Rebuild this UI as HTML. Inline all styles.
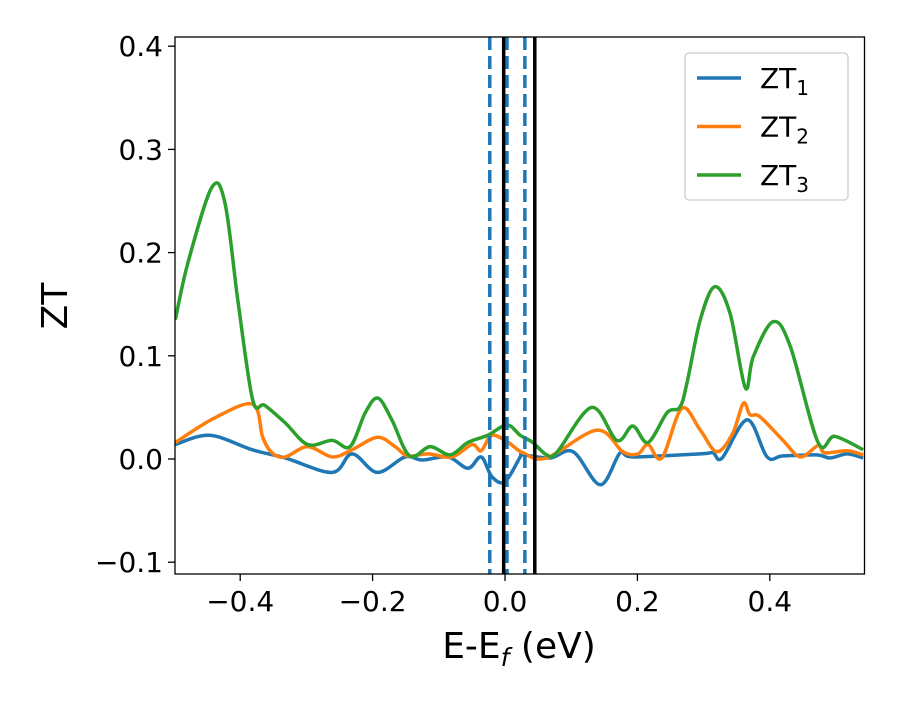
<!DOCTYPE html>
<html><head><meta charset="utf-8"><style>
body{margin:0;background:#fff}
svg{font-family:"DejaVu Sans","Liberation Sans",sans-serif}
</style></head><body>
<svg id="chart" width="900" height="700">
<defs><clipPath id="clip"><rect x="175" y="37" width="690" height="537"/></clipPath></defs>
<rect x="0" y="0" width="900" height="700" fill="#fff"/>
<g id="ticks"></g>
<g id="plot" clip-path="url(#clip)"></g>
<rect x="175" y="37" width="689.5" height="537" fill="none" stroke="#000" stroke-width="1.3"/>
<text x="519" y="658" font-size="36" text-anchor="middle">E-E<tspan font-style="italic" font-size="25" dy="8">f</tspan><tspan dy="-8"> (eV)</tspan></text>
<text transform="translate(67,306) rotate(-90)" font-size="36" text-anchor="middle">ZT</text>
<g id="legend"></g>
</svg>
<script>
const xTicks=[-0.4,-0.2,0.0,0.2,0.4];
const xTickLabels=["\u22120.4","\u22120.2","0.0","0.2","0.4"];
const yTicks=[-0.1,0.0,0.1,0.2,0.3,0.4];
const yTickLabels=["\u22120.1","0.0","0.1","0.2","0.3","0.4"];
const seriesNames=["ZT1","ZT2","ZT3"];
const seriesColors=["#1f77b4","#ff7f0e","#2ca02c"];
const zt1X=[-0.498,-0.446,-0.382,-0.332,-0.261,-0.231,-0.193,-0.151,-0.125,-0.086,-0.056,-0.036,-0.020,0.000,0.023,0.027,0.068,0.103,0.144,0.174,0.193,0.295,0.314,0.328,0.366,0.396,0.420,0.471,0.491,0.517,0.541];
const zt1Y=[0.014,0.023,0.009,0.001,-0.013,0.005,-0.013,0.002,-0.001,0.002,-0.009,0.002,-0.017,-0.022,0.002,0.004,0.001,0.007,-0.025,0.006,0.002,0.005,0.006,0.001,0.038,0.002,0.003,0.004,0.001,0.005,0.001];
const zt2X=[-0.498,-0.438,-0.381,-0.366,-0.352,-0.332,-0.298,-0.261,-0.231,-0.193,-0.166,-0.147,-0.116,-0.080,-0.050,-0.036,-0.020,0.005,0.027,0.063,0.139,0.178,0.201,0.216,0.237,0.267,0.295,0.320,0.344,0.360,0.370,0.385,0.420,0.446,0.473,0.483,0.517,0.541];
const zt2Y=[0.016,0.040,0.053,0.021,0.006,0.002,0.012,0.002,0.009,0.021,0.012,0.003,0.005,0.002,0.014,0.008,0.023,0.016,0.006,0.001,0.028,0.007,0.005,0.014,0.001,0.049,0.028,0.007,0.025,0.054,0.043,0.041,0.018,0.002,0.013,0.006,0.008,0.004];
const zt3X=[-0.498,-0.479,-0.443,-0.423,-0.403,-0.381,-0.363,-0.332,-0.298,-0.261,-0.234,-0.211,-0.192,-0.171,-0.144,-0.113,-0.083,-0.056,-0.026,0.003,0.023,0.042,0.063,0.079,0.131,0.169,0.193,0.216,0.245,0.264,0.275,0.295,0.317,0.340,0.363,0.375,0.405,0.431,0.473,0.498,0.541];
const zt3Y=[0.135,0.190,0.263,0.248,0.151,0.057,0.052,0.035,0.014,0.018,0.012,0.045,0.059,0.038,0.003,0.012,0.004,0.016,0.023,0.033,0.023,0.016,0.004,0.007,0.050,0.018,0.032,0.016,0.045,0.050,0.074,0.135,0.167,0.141,0.069,0.099,0.133,0.109,0.016,0.022,0.009];
const dashedLines=[-0.023,0.003,0.030];
const solidLines=[-0.002,0.045];

const NS="http://www.w3.org/2000/svg";
const xs=v=>505+v*662;
const ys=v=>459-v*1032;
function mk(tag,attrs,parent){const e=document.createElementNS(NS,tag);for(const k in attrs)e.setAttribute(k,attrs[k]);parent.appendChild(e);return e;}
const ticks=document.getElementById('ticks'),plot=document.getElementById('plot'),legend=document.getElementById('legend');
xTicks.forEach((t,i)=>{
  const l=mk('line',{x1:xs(t),x2:xs(t),y1:574,y2:581,stroke:'#000','stroke-width':1.3},ticks);
  
  
  const tx=mk('text',{x:xs(t),y:611,'font-size':28,'text-anchor':'middle'},ticks);
  tx.textContent=xTickLabels[i];
  
  
});
yTicks.forEach((t,i)=>{
  const l=mk('line',{x1:168,x2:175,y1:ys(t),y2:ys(t),stroke:'#000','stroke-width':1.3},ticks);
  
  
  const tx=mk('text',{x:163,y:ys(t)+10,'font-size':28,'text-anchor':'end'},ticks);
  tx.textContent=yTickLabels[i];
  
  
});
function pathD(X,Y){
  const p=X.map((x,i)=>[xs(x),ys(Y[i])]);
  let d=`M${p[0][0]},${p[0][1]}`;
  for(let i=0;i<p.length-1;i++){
    const p0=p[Math.max(0,i-1)],p1=p[i],p2=p[i+1],p3=p[Math.min(p.length-1,i+2)];
    const c1=[p1[0]+(p2[0]-p0[0])/6,p1[1]+(p2[1]-p0[1])/6];
    const c2=[p2[0]-(p3[0]-p1[0])/6,p2[1]-(p3[1]-p1[1])/6];
    d+=`C${c1[0]},${c1[1]} ${c2[0]},${c2[1]} ${p2[0]},${p2[1]}`;
  }
  return d;
}
const allX=[zt1X,zt2X,zt3X],allY=[zt1Y,zt2Y,zt3Y];
allX.forEach((X,i)=>{
  const p=mk('path',{d:pathD(X,allY[i]),fill:'none',stroke:seriesColors[i],'stroke-width':3.5,'stroke-linejoin':'round'},plot);
  
  
});
dashedLines.forEach(v=>{
  const l=mk('line',{x1:xs(v),x2:xs(v),y1:37,y2:574,stroke:'#1f77b4','stroke-width':3.5,'stroke-dasharray':'13,6'},plot);
  
  
});
solidLines.forEach(v=>{
  const l=mk('line',{x1:xs(v),x2:xs(v),y1:37,y2:574,stroke:'#000','stroke-width':3.5},plot);
  
  
});
const box=mk('rect',{x:685,y:53,width:163,height:147,rx:4,fill:'#fff','fill-opacity':0.8,stroke:'#ccc','stroke-width':1.3},legend);


seriesNames.forEach((n,i)=>{
  const y=78+i*48.5;
  const l=mk('line',{x1:697,x2:741,y1:y,y2:y,stroke:seriesColors[i],'stroke-width':3.5},legend);
  
  
  const t=mk('text',{x:760,y:y+10,'font-size':28},legend);
  t.innerHTML='ZT<tspan font-size="20" dy="7">'+(i+1)+'</tspan>';
  
  
});
</script>
</body></html>
